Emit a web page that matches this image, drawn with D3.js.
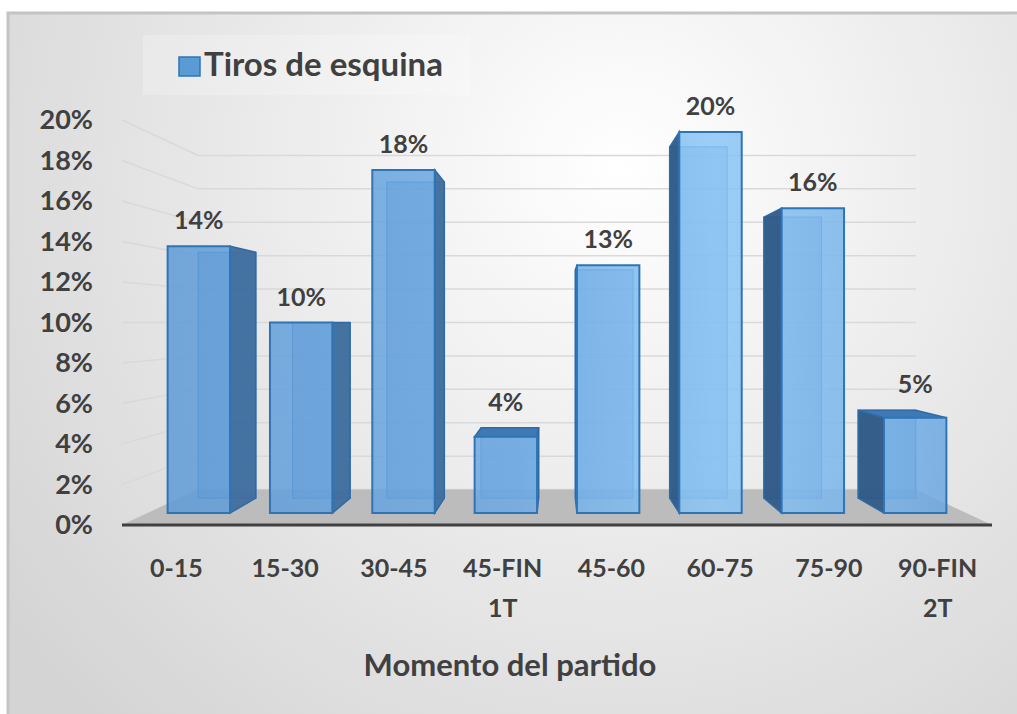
<!DOCTYPE html>
<html>
<head>
<meta charset="utf-8">
<script src="https://cdn.jsdelivr.net/npm/d3@7"></script>
<style>
  body { margin: 0; background: #fff; }
  svg { display: block; font-family: Lato, "Open Sans", sans-serif; }
</style>
</head>
<body>
<div id="grafico"></div>
<script>
// DATOS
var categorias = ['0-15', '15-30', '30-45', '45-FIN 1T', '45-60', '60-75', '75-90', '90-FIN 2T'];
var valores = [0.14, 0.10, 0.18, 0.04, 0.13, 0.20, 0.16, 0.05];
var etiquetasY = [0, 0.02, 0.04, 0.06, 0.08, 0.10, 0.12, 0.14, 0.16, 0.18, 0.20];
var serie = 'Tiros de esquina';
var tituloX = 'Momento del partido';

var width = 1017, height = 714;
var svg = d3.select('#grafico').append('svg').attr('width', width).attr('height', height);

var defs = svg.append('defs');
var bg = defs.append('radialGradient').attr('id', 'fondo')
    .attr('gradientUnits', 'userSpaceOnUse')
    .attr('cx', 620).attr('cy', 170).attr('r', 760);
bg.append('stop').attr('offset', '0%').attr('stop-color', '#ffffff');
bg.append('stop').attr('offset', '100%').attr('stop-color', '#d4d4d4');

var frente = defs.append('linearGradient').attr('id', 'frente')
    .attr('gradientUnits', 'userSpaceOnUse')
    .attr('x1', 150).attr('y1', 0).attr('x2', 960).attr('y2', 0);
frente.append('stop').attr('offset', '0%').attr('stop-color', '#5d9ad6');
frente.append('stop').attr('offset', '45%').attr('stop-color', '#6eaae3');
frente.append('stop').attr('offset', '70%').attr('stop-color', '#8cc6f6');
frente.append('stop').attr('offset', '100%').attr('stop-color', '#6aa6e0');

// fondo del area (solo se ven los bordes izquierdo y superior)
svg.append('rect')
    .attr('x', 8).attr('y', 13).attr('width', 1040).attr('height', 740)
    .attr('fill', 'url(#fondo)')
    .attr('stroke', '#c4c4c4').attr('stroke-width', 3);

// ESCALAS (plano frontal)
var x = d3.scaleBand().domain(categorias).range([122, 992])
    .paddingInner(0.39).paddingOuter(0.195);
var y = d3.scaleLinear().domain([0, 0.20]).range([525, 120]);

// perspectiva: punto de fuga a la altura del 10%
var VX = 557, VY = y(0.10);
var sPared = 0.825, sFrente = 0.941, sFondo = 0.867;
function proy(px, py, s) {
    return [VX + (px - VX) * s, VY + (py - VY) * s];
}
function poly(pts) {
    return 'M' + pts.map(function (p) { return p[0] + ',' + p[1]; }).join('L') + 'Z';
}

// leyenda
svg.append('rect').attr('x', 143).attr('y', 35).attr('width', 327).attr('height', 60)
    .attr('fill', '#ffffff').attr('opacity', 0.22);
svg.append('rect').attr('x', 179).attr('y', 57).attr('width', 21).attr('height', 19)
    .attr('fill', '#5b9bd5').attr('stroke', '#2e75b6').attr('stroke-width', 1.5);
svg.append('text').attr('x', 204).attr('y', 76)
    .attr('font-size', 33).attr('font-weight', 'bold').attr('fill', '#404040')
    .text(serie);

// pared izquierda y pared de fondo (lineas de division)
var rejilla = svg.append('g').attr('stroke', '#d9d9d9').attr('stroke-width', 1.5).attr('fill', 'none');
etiquetasY.forEach(function (v) {
    var a = [122, y(v)];
    var b = proy(122, y(v), sPared);
    var c = proy(992, y(v), sPared);
    rejilla.append('path').attr('d', 'M' + a + 'L' + b + 'L' + c);
});

// piso
svg.append('path')
    .attr('d', poly([[122, y(0)], [992, y(0)], proy(992, y(0), sPared), proy(122, y(0), sPared)]))
    .attr('fill', '#bcbcbc');
svg.append('line').attr('x1', 122).attr('x2', 992).attr('y1', y(0)).attr('y2', y(0))
    .attr('stroke', '#404040').attr('stroke-width', 3);

// BARRAS
var barras = svg.append('g');
categorias.forEach(function (cat, i) {
    var v = valores[i];
    var x0 = x(cat), x1 = x(cat) + x.bandwidth();
    var y0 = y(0), y1 = y(v);
    var f = [proy(x0, y1, sFrente), proy(x1, y1, sFrente), proy(x1, y0, sFrente), proy(x0, y0, sFrente)];
    var b = [proy(x0, y1, sFondo), proy(x1, y1, sFondo), proy(x1, y0, sFondo), proy(x0, y0, sFondo)];
    var g = barras.append('g');

    // cara trasera (se ve a traves)
    g.append('path').attr('d', poly(b)).attr('fill', '#4f8cc8').attr('fill-opacity', 0.5)
        .attr('stroke', '#3b7bbd').attr('stroke-width', 1.2);

    // cara lateral visible
    var centro = (x0 + x1) / 2;
    var lado;
    if (centro < VX) {
        lado = [f[1], b[1], b[2], f[2]];
        g.append('path').attr('d', poly(lado)).attr('fill', '#3f6e9e').attr('fill-opacity', 0.95)
            .attr('stroke', '#2e6aa6').attr('stroke-width', 1.5);
    } else {
        lado = [f[0], b[0], b[3], f[3]];
        g.append('path').attr('d', poly(lado)).attr('fill', '#2f5a86').attr('fill-opacity', 0.95)
            .attr('stroke', '#2e6aa6').attr('stroke-width', 1.5);
    }

    // cara superior (solo si esta bajo el punto de fuga)
    if (y1 > VY) {
        g.append('path').attr('d', poly([f[0], f[1], b[1], b[0]]))
            .attr('fill', '#3f79b5').attr('stroke', '#2e6aa6').attr('stroke-width', 1.5);
    }

    // cara frontal
    g.append('path').attr('d', poly(f)).attr('fill', 'url(#frente)').attr('fill-opacity', 0.85)
        .attr('stroke', '#2e75b6').attr('stroke-width', 2);

    // etiqueta de valor
    var tope = Math.min(f[0][1], b[0][1]);
    svg.append('text')
        .attr('x', (f[0][0] + f[1][0]) / 2)
        .attr('y', tope - 17)
        .attr('text-anchor', 'middle')
        .attr('font-size', 25).attr('font-weight', 'bold').attr('fill', '#404040')
        .text(d3.format('.0%')(v));
});

// EJE Y
var ejeY = svg.append('g').attr('transform', 'translate(122,0)')
    .call(d3.axisLeft(y).tickValues(etiquetasY).tickSize(0).tickPadding(29).tickFormat(d3.format('.0%')));
ejeY.select('.domain').remove();
ejeY.selectAll('text').attr('font-size', 27).attr('font-weight', 'bold').attr('fill', '#404040')
    .attr('font-family', 'Lato, sans-serif');

// EJE X
var ejeX = svg.append('g').attr('transform', 'translate(0,' + y(0) + ')')
    .call(d3.axisBottom(x).tickSize(0).tickPadding(0));
ejeX.select('.domain').remove();
ejeX.selectAll('text').each(function (d) {
    var t = d3.select(this).text('').attr('font-size', 25).attr('font-weight', 'bold')
        .attr('fill', '#404040').attr('font-family', 'Lato, sans-serif').attr('dy', null).attr('y', 0);
    var partes = d.split(' ');
    partes.forEach(function (p, k) {
        t.append('tspan').attr('x', 0).attr('y', 52 + k * 40).text(p);
    });
});

// titulo eje X
svg.append('text').attr('x', 510).attr('y', 676).attr('text-anchor', 'middle')
    .attr('font-size', 31).attr('font-weight', 'bold').attr('fill', '#404040')
    .text(tituloX);
</script>
</body>
</html>
